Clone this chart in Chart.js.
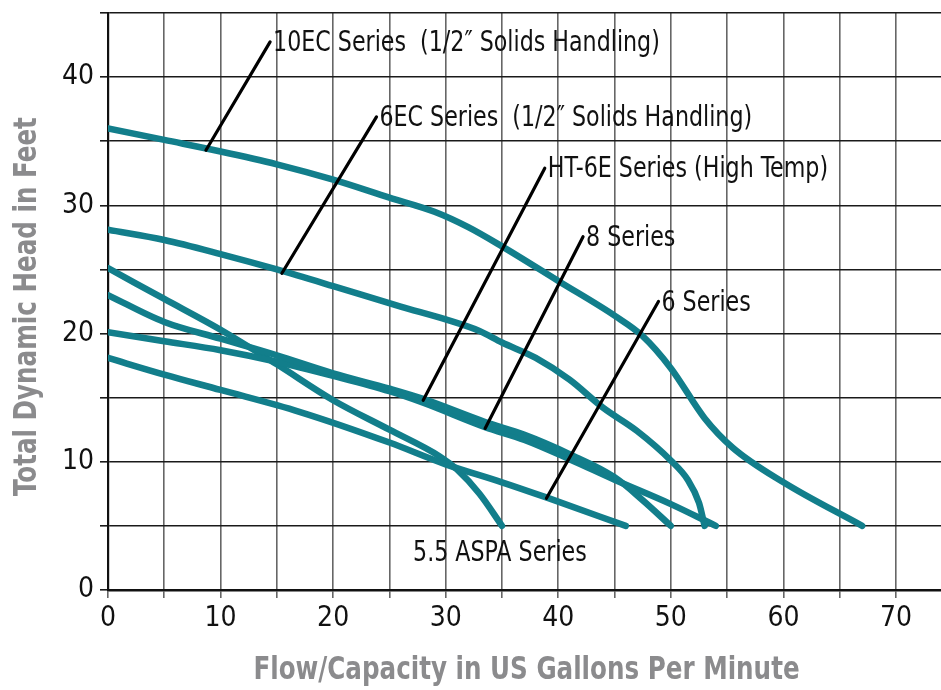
<!DOCTYPE html>
<html>
<head>
<meta charset="utf-8">
<script src="https://cdn.jsdelivr.net/npm/chart.js@4"></script>
<style>
  html, body { margin: 0; padding: 0; background: #fff; }
  #wrap { width: 941px; height: 690px; }
</style>
</head>
<body>
<div id="wrap"><canvas id="pumpChart" width="941" height="690"></canvas></div>
<script>
// pump performance curves: flow (GPM) vs total dynamic head (ft)
const flow10EC = [0, 5, 10, 15, 20, 25, 29, 32, 35, 40, 45, 47.5, 50, 53, 55.5, 60, 67];
const head10EC = [36, 35.1, 34.2, 33.2, 32.0, 30.6, 29.5, 28.3, 26.8, 24.1, 21.4, 19.8, 17.3, 13.4, 11.1, 8.4, 5];

const flow6EC = [0, 5, 10, 15, 20, 26, 30, 33, 35, 38, 41, 44, 47, 50, 51.5, 52.5, 53];
const head6EC = [28.1, 27.3, 26.2, 25.0, 23.7, 22.1, 21.1, 20.2, 19.3, 18.1, 16.4, 14.2, 12.4, 10.1, 8.6, 6.8, 5];

const flowHT6E = [0, 5, 10, 15, 20, 25, 28, 33.5, 37, 41, 45, 47.5, 50];
const headHT6E = [23, 20.9, 19.6, 18.3, 16.9, 15.7, 14.9, 13.1, 12.1, 10.6, 8.8, 7.0, 5];

const flow8 = [0, 5, 10, 15, 20, 25, 28, 33.5, 37, 41, 45, 50, 54];
const head8 = [20.1, 19.4, 18.7, 17.8, 16.7, 15.5, 14.6, 12.7, 11.7, 10.2, 8.6, 6.7, 5];

const flow6 = [0, 5, 10, 17, 25, 30, 35, 39, 46];
const head6 = [18.1, 16.8, 15.6, 13.9, 11.5, 9.8, 8.4, 7.2, 5];

const flowASPA = [0, 5, 10, 15, 20, 25, 29.5, 31, 33, 35];
const headASPA = [25.1, 22.7, 20.3, 17.6, 14.8, 12.5, 10.4, 9.4, 7.5, 5];

// callout labels: text, anchor on the curve, tip where the text starts
const noteText = ['10EC Series  (1/2\u2033 Solids Handling)', '6EC Series  (1/2\u2033 Solids Handling)',
                  'HT-6E Series (High Temp)', '8 Series', '6 Series', '5.5 ASPA Series'];
const noteAnchorX = [8.7, 15.45, 28.0, 33.5, 38.95, null];
const noteAnchorY = [34.3, 24.7, 14.8, 12.6, 7.15, null];
const noteTipX = [14.4, 23.85, 38.8, 42.2, 48.9, 27.1];
const noteTipY = [42.75, 36.9, 32.9, 27.55, 22.5, 3.0];

const xTitle = 'Flow/Capacity in US Gallons Per Minute';
const yTitle = 'Total Dynamic Head in Feet';

const curveColor = '#127e8b';
const labelFont = '"Liberation Sans Narrow", "DejaVu Sans Condensed", sans-serif';
const narrow = 0.88;      // squeeze for the condensed look of the labels
const titleNarrow = 0.855;

function toPoints(xs, ys) {
    return xs.map((x, i) => ({ x, y: ys[i] }));
}

function curve(label, xs, ys) {
    return {
        label,
        data: toPoints(xs, ys),
        showLine: true,
        borderColor: curveColor,
        backgroundColor: curveColor,
        borderWidth: 6.5,
        borderCapStyle: 'round',
        borderJoinStyle: 'round',
        cubicInterpolationMode: 'monotone',
        pointRadius: 0,
        pointHoverRadius: 0
    };
}

function squeezedText(ctx, text, x, y, factor) {
    ctx.save();
    ctx.translate(x, y);
    ctx.scale(factor, 1);
    ctx.fillText(text, 0, 0);
    ctx.restore();
}

// leader lines, series names and axis titles
const calloutPlugin = {
    id: 'callouts',
    afterDatasetsDraw(chart) {
        const { ctx, chartArea, scales: { x, y } } = chart;
        ctx.save();
        ctx.font = '28px ' + labelFont;
        ctx.fillStyle = '#111';
        ctx.strokeStyle = '#000';
        ctx.lineWidth = 3.2;
        ctx.lineCap = 'round';
        ctx.textBaseline = 'middle';
        ctx.textAlign = 'left';
        noteText.forEach((text, i) => {
            const tx = x.getPixelForValue(noteTipX[i]);
            const ty = y.getPixelForValue(noteTipY[i]);
            if (noteAnchorX[i] !== null) {
                ctx.beginPath();
                ctx.moveTo(x.getPixelForValue(noteAnchorX[i]), y.getPixelForValue(noteAnchorY[i]));
                ctx.lineTo(tx, ty);
                ctx.stroke();
                squeezedText(ctx, text, tx + 3, ty + 2, narrow);
            } else {
                squeezedText(ctx, text, tx, ty + 2, narrow);
            }
        });

        // axis titles
        ctx.font = 'bold 32px ' + labelFont;
        ctx.fillStyle = '#8b8b8d';
        ctx.textAlign = 'center';
        squeezedText(ctx, xTitle, (chartArea.left + chartArea.right) / 2 + 2, chart.height - 19, titleNarrow);
        ctx.save();
        ctx.translate(28, (chartArea.top + chartArea.bottom) / 2 + 5);
        ctx.rotate(-Math.PI / 2);
        squeezedText(ctx, yTitle, 0, 0, titleNarrow);
        ctx.restore();
        ctx.restore();
    }
};

new Chart(document.getElementById('pumpChart'), {
    type: 'scatter',
    data: {
        datasets: [
            curve('10EC Series', flow10EC, head10EC),
            curve('6EC Series', flow6EC, head6EC),
            curve('HT-6E Series', flowHT6E, headHT6E),
            curve('8 Series', flow8, head8),
            curve('6 Series', flow6, head6),
            curve('5.5 ASPA Series', flowASPA, headASPA)
        ]
    },
    options: {
        responsive: false,
        animation: false,
        layout: { padding: { top: 13, right: 0, left: 0, bottom: 0 } },
        plugins: {
            legend: { display: false },
            tooltip: { enabled: false }
        },
        scales: {
            x: {
                type: 'linear',
                min: 0,
                max: 74,
                afterFit(scale) { scale.height = 100; },
                ticks: {
                    stepSize: 5,
                    includeBounds: false,
                    autoSkip: false,
                    maxRotation: 0,
                    padding: 4,
                    color: '#111',
                    font: { family: labelFont, size: 28 },
                    callback: v => (v % 10 === 0 ? v : '')
                },
                grid: { color: '#666', lineWidth: 1.6, tickLength: 8 },
                border: { color: '#111', width: 2.5 }
            },
            y: {
                min: 0,
                max: 45,
                afterFit(scale) { scale.width = 108; scale.paddingTop = 0; },
                ticks: {
                    stepSize: 5,
                    padding: 6,
                    color: '#111',
                    font: { family: labelFont, size: 28 },
                    callback: v => (v % 10 === 0 ? v : '')
                },
                grid: { color: '#1a1a1a', lineWidth: 1.6, tickLength: 8 },
                border: { color: '#111', width: 2.2 }
            }
        }
    },
    plugins: [calloutPlugin]
});
</script>
</body>
</html>
